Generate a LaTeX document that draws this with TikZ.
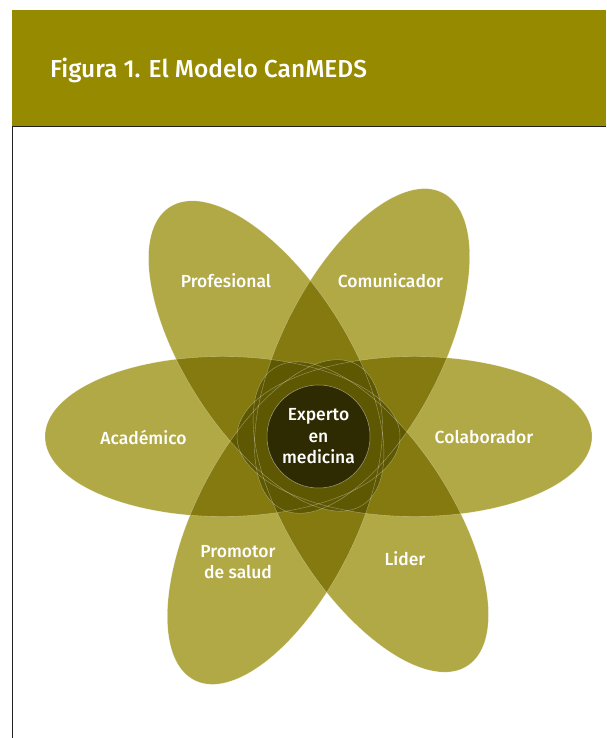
\documentclass[tikz,border=0pt]{standalone}
\usepackage{fontspec}
\setmainfont{Fira Sans}[BoldFont={Fira Sans Medium}]
\definecolor{headolive}{RGB}{150,139,0}
\definecolor{petalone}{RGB}{177,168,70}
\definecolor{petaltwo}{RGB}{132,122,16}
\definecolor{petalthree}{RGB}{95,88,2}
\definecolor{core}{RGB}{46,42,2}
\definecolor{rulegray}{RGB}{35,31,32}
\tikzset{
  petalat/.style={shift={(c)}, rotate={{0,63,123,180,243,303}[#1]}},
  petaledge/.style={draw=white, draw opacity=0.4, line width=0.4pt},
  lbl/.style={text=white, font=\fontsize{17.5}{21.5}\selectfont\bfseries, align=center, inner sep=0pt}
}

\begin{document}
\begin{tikzpicture}[x=1pt,y=1pt]
  \useasboundingbox (0,0) rectangle (606,738);
  \fill[headolive] (12,611) rectangle (606,728);
  \draw[rulegray, line width=1pt] (12,611) -- (606,611);
  \draw[rulegray, line width=1pt] (12,611) -- (12,0);
  \node[anchor=base west, text=white, inner sep=0pt,
    font=\fontsize{24.5}{28}\selectfont\bfseries] (title) at (50,660) {Figura 1. El Modelo CanMEDS};
  \coordinate (c) at (318.5,301.5);
  \foreach \i in {0,...,5}
    \fill[petalone, petalat=\i] (96,0) ellipse [x radius=177.5pt, y radius=80pt];
  \foreach \i in {0,...,4}{
    \pgfmathtruncatemacro\jlo{\i+1}
    \foreach \j in {\jlo,...,5}{
      \begin{scope}
        \clip[petalat=\i] (96,0) ellipse [x radius=177.5pt, y radius=80pt];
        \fill[petaltwo, petalat=\j] (96,0) ellipse [x radius=177.5pt, y radius=80pt];
      \end{scope}
    }
  }
  \foreach \i in {0,...,3}{
    \pgfmathtruncatemacro\jlo{\i+1}
    \foreach \j in {\jlo,...,4}{
      \pgfmathtruncatemacro\klo{\j+1}
      \foreach \k in {\klo,...,5}{
        \begin{scope}
          \clip[petalat=\i] (96,0) ellipse [x radius=177.5pt, y radius=80pt];
          \clip[petalat=\j] (96,0) ellipse [x radius=177.5pt, y radius=80pt];
          \fill[petalthree, petalat=\k] (96,0) ellipse [x radius=177.5pt, y radius=80pt];
        \end{scope}
      }
    }
  }
  \foreach \i in {0,...,5}
    \draw[petaledge, petalat=\i] (96,0) ellipse [x radius=177.5pt, y radius=80pt];
  \node[circle, fill=core, draw=white, draw opacity=0.5, line width=0.5pt,
    minimum size=103pt, lbl] (experto) at (c) {Experto\\en\\medicina};
  \foreach \nm/\x/\y/\txt in {prof/226/457/Profesional, comu/390.5/457/Comunicador,
      acad/143.5/301/Académico, cola/484/301/Colaborador,
      prom/238/176/{Promotor\\de salud}, lider/405/179/Lider}
    \node[lbl] (\nm) at (\x,\y) {\txt};
\end{tikzpicture}
\end{document}
